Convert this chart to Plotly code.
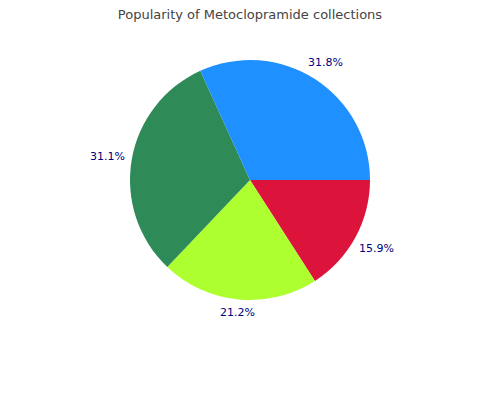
import numpy as np
import plotly.graph_objects as go

# 数据 (顺时针从 3 点钟方向开始)
labels = ['Red', 'Lime', 'Green', 'Blue']
values = [15.9, 21.2, 31.1, 31.8]
colors = ['#DC143C', '#ADFF2F', '#2E8B57', '#1E90FF']

W, H = 500, 400
CX, CY, R = 242, 172, 120   # 饼图中心和半径 (像素)
LABEL_R = 126               # 标签框到中心的距离
HALF_W, HALF_H = 17.5, 5    # 标签文字半宽/半高 (近似)

fig = go.Figure()

fig.add_trace(go.Pie(
    labels=labels,
    values=values,
    marker=dict(colors=colors, line=dict(width=0)),
    sort=False,
    direction='clockwise',
    rotation=90,
    textinfo='none',
    showlegend=False,
    hoverinfo='skip',
    domain=dict(x=[(CX - R) / W, (CX + R) / W],
                y=[1 - (CY + R) / H, 1 - (CY - R) / H])
))

# 外部百分比标签
vals = np.array(values, dtype=float)
total = vals.sum()
cum = np.cumsum(vals) - vals / 2
for v, c in zip(vals, cum):
    ang = -np.deg2rad(c / total * 360)
    ca, sa = np.cos(ang), np.sin(ang)
    d = LABEL_R + HALF_W * abs(ca) + HALF_H * abs(sa)
    px = CX + d * ca
    py = CY - d * sa
    fig.add_annotation(
        x=px / W, y=1 - py / H, xref='paper', yref='paper',
        text=f'{v / total * 100:.1f}%', showarrow=False,
        xanchor='center', yanchor='middle',
        font=dict(family='DejaVu Sans', size=11, color='#000080')
    )

fig.update_layout(
    title=dict(
        text='Popularity of Metoclopramide collections',
        x=0.484, xanchor='center', y=0.995, yanchor='top',
        font=dict(family='DejaVu Sans', size=13, color='#444444')
    ),
    width=W, height=H,
    paper_bgcolor='white',
    margin=dict(l=0, r=0, t=0, b=0)
)

fig.write_html('out.html')
